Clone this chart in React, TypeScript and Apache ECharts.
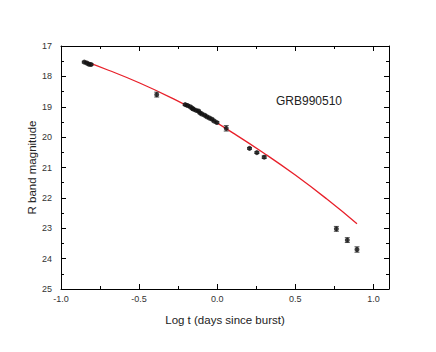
import React, { useEffect, useRef } from "react";
import * as echarts from "echarts";

// Observations: log t (days), R magnitude, error
const obsX = [-0.851, -0.835, -0.821, -0.808, -0.387,
  -0.205, -0.19, -0.173, -0.16, -0.152, -0.135, -0.12, -0.11, -0.098, -0.08, -0.066, -0.05, -0.034, -0.02, -0.002,
  0.058, 0.207, 0.254, 0.301, 0.763, 0.833, 0.895];
const obsY = [17.53, 17.56, 17.6, 17.61, 18.6,
  18.93, 18.96, 19.0, 19.05, 19.08, 19.12, 19.14, 19.2, 19.24, 19.28, 19.33, 19.37, 19.41, 19.47, 19.52,
  19.71, 20.37, 20.51, 20.66, 23.02, 23.39, 23.7];
const obsErr = [0.03, 0.03, 0.03, 0.03, 0.08,
  0.03, 0.03, 0.03, 0.03, 0.03, 0.03, 0.03, 0.03, 0.03, 0.03, 0.03, 0.03, 0.03, 0.03, 0.03,
  0.09, 0.03, 0.03, 0.04, 0.08, 0.08, 0.09];

// Model curve
const modelX = [-0.85, -0.7, -0.5, -0.3, -0.1, 0.1, 0.3, 0.5, 0.7, 0.895];
const modelY = [17.5, 17.79, 18.21, 18.69, 19.23, 19.86, 20.53, 21.25, 22.03, 22.85];

const xTicks = [-1.0, -0.5, 0.0, 0.5, 1.0];
const yTicks = [17, 18, 19, 20, 21, 22, 23, 24, 25];

const FONT = "Liberation Sans";

export default function App() {
  const ref = useRef<HTMLDivElement>(null);
  useEffect(() => {
    if (!ref.current) return;
    const chart = echarts.init(ref.current, undefined, { renderer: "svg" });
    const pts = obsX.map((x, i) => [x, obsY[i], obsErr[i]]);
    const axisCommon = {
      axisLine: { show: true, onZero: false, lineStyle: { color: "#000", width: 1 } },
      axisTick: { show: true, inside: true, length: 5, lineStyle: { color: "#000" } },
      minorTick: { show: true, splitNumber: 2, length: 3, lineStyle: { color: "#000" } },
      splitLine: { show: false },
      minorSplitLine: { show: false },
    };
    const xFmt = (v: number) =>
      xTicks.some((t) => Math.abs(t - v) < 1e-6) ? v.toFixed(1) : "";
    const yFmt = (v: number) =>
      yTicks.some((t) => Math.abs(t - v) < 1e-6) ? String(v) : "";
    chart.setOption({
      animation: false,
      backgroundColor: "#fff",
      grid: { left: 53, top: 38, width: 328, height: 243, containLabel: false },
      xAxis: [
        {
          type: "value", min: -1, max: 1.1, interval: 0.5, position: "bottom",
          ...axisCommon,
          axisLabel: { formatter: xFmt, fontFamily: FONT, fontSize: 9, color: "#333", margin: 5 },
          name: "Log t (days since burst)", nameLocation: "middle", nameGap: 25,
          nameMoveOverlap: false,
          nameTextStyle: { fontFamily: FONT, fontSize: 11.5, color: "#222" },
        },
        {
          type: "value", min: -1, max: 1.1, interval: 0.5, position: "top",
          ...axisCommon, axisLabel: { show: false },
        },
      ],
      yAxis: [
        {
          type: "value", min: 17, max: 25, interval: 1, inverse: true, position: "left",
          ...axisCommon,
          axisLabel: { formatter: yFmt, fontFamily: FONT, fontSize: 9, color: "#333", margin: 9 },
          name: "R band magnitude", nameLocation: "middle", nameGap: 23,
          nameMoveOverlap: false,
          nameTextStyle: { fontFamily: FONT, fontSize: 11.5, color: "#222" },
        },
        {
          type: "value", min: 17, max: 25, interval: 1, inverse: true, position: "right",
          ...axisCommon, axisLabel: { show: false },
        },
      ],
      graphic: [
        {
          type: "text", left: 268, top: 87,
          style: { text: "GRB990510", font: `12px ${FONT}`, fill: "#222" },
        },
      ],
      series: [
        {
          type: "line", data: modelX.map((x, i) => [x, modelY[i]]),
          smooth: true, showSymbol: false,
          lineStyle: { color: "#e8202a", width: 1.3 }, z: 3,
        },
        {
          type: "custom", data: pts, z: 4,
          renderItem: (params: any, api: any) => {
            const x = api.value(0), y = api.value(1), e = api.value(2);
            const top = api.coord([x, y - e]);
            const bot = api.coord([x, y + e]);
            const cap = 2.5;
            const st = { stroke: "#555", lineWidth: 1 };
            return {
              type: "group",
              children: [
                { type: "line", shape: { x1: top[0], y1: top[1], x2: bot[0], y2: bot[1] }, style: st },
                { type: "line", shape: { x1: top[0] - cap, y1: top[1], x2: top[0] + cap, y2: top[1] }, style: st },
                { type: "line", shape: { x1: bot[0] - cap, y1: bot[1], x2: bot[0] + cap, y2: bot[1] }, style: st },
              ],
            };
          },
        },
        {
          type: "scatter", data: pts.map((p) => [p[0], p[1]]), symbol: "circle", symbolSize: 5,
          itemStyle: { color: "#111" }, z: 5,
        },
      ],
    });
    return () => chart.dispose();
  }, []);
  return <div ref={ref} style={{ width: 420, height: 336 }} />;
}
